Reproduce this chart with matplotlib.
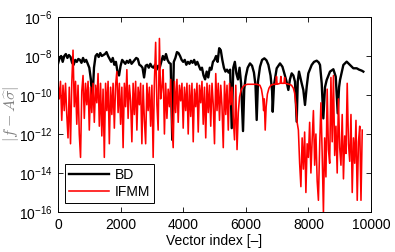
import numpy as np
import matplotlib
matplotlib.use('Agg')
import matplotlib.pyplot as plt
from matplotlib.ticker import NullLocator, FixedLocator

plt.rcParams['font.family'] = ['Liberation Sans', 'DejaVu Sans']
plt.rcParams['mathtext.fontset'] = 'custom'
plt.rcParams['mathtext.rm'] = 'Liberation Sans'
plt.rcParams['mathtext.it'] = 'Liberation Sans:italic'

# ---------------- data (log10 of |f - A sigma|) ----------------
# BD, noisy part, every 50 indices from 0 to 5850
bd_noisy_start = 0
bd_noisy_step = 50
bd_noisy_exp = [
    -8.4, -8.1, -8.0, -8.3, -8.0, -7.9, -8.1, -7.95, -8.05, -8.35,
    -8.45, -8.2, -8.3, -8.15, -8.2, -8.35, -8.1, -8.3, -8.2, -8.4,
    -8.6, -9.2, -10.3, -8.6, -8.0, -7.9, -8.05, -7.85, -8.0, -7.95,
    -7.9, -7.8, -8.0, -8.15, -8.3, -8.1, -8.45, -8.3, -8.8, -9.0,
    -8.5, -8.2, -8.3, -8.4, -8.25, -8.35, -8.2, -8.4, -8.3, -8.2,
    -8.1, -8.15, -8.45, -8.5, -8.6, -9.1, -8.5, -8.45, -8.6, -8.4,
    -8.55, -8.6, -8.45, -8.7, -8.5, -8.6, -8.3, -8.0, -8.2, -7.9,
    -8.2, -8.35, -8.4, -12.3, -8.3, -8.1, -7.8, -7.85, -8.0, -8.2,
    -8.3, -8.2, -8.45, -8.3, -8.4, -8.25, -8.35, -8.2, -8.45, -8.3,
    -8.5, -8.7, -8.6, -9.0, -9.2, -8.8, -9.1, -8.6, -8.7, -8.3,
    -8.2, -8.0, -8.3, -7.6, -7.7, -8.2, -8.6, -8.8, -8.7, -8.85,
    -8.7, -11.7, -8.6, -8.3, -8.9, -9.2, -8.6, -9.4,
]
# BD, oscillating part
bd_arc_idx = [
    5911, 5950, 6000, 6060, 6134, 6200, 6260, 6310, 6348, 6390,
    6454, 6520, 6593, 6660, 6721, 6790, 6840, 6860, 6900, 6987,
    7093, 7170, 7231, 7300, 7359, 7410, 7466, 7520, 7572, 7626,
    7660, 7700, 7785, 7838, 7891, 7946, 7998, 8105, 8180, 8265,
    8330, 8371, 8425, 8477, 8530, 8584, 8690, 8797, 8873, 8937,
    8980, 9010, 9117, 9223, 9330, 9436, 9543, 9620, 9703, 9755,
]
bd_arc_exp = [
    -11.85, -9.7, -9.05, -8.6, -8.38, -8.5, -8.85, -9.5, -11.28, -9.3,
    -8.55, -8.2, -8.12, -8.22, -8.45, -9.0, -9.8, -10.86, -9.5, -8.63,
    -8.38, -8.55, -8.89, -9.3, -9.74, -9.2, -8.89, -9.0, -9.32, -11.37,
    -9.3, -8.8, -9.4, -9.74, -10.51, -9.57, -8.89, -8.46, -8.3, -8.24,
    -8.33, -8.46, -9.4, -11.2, -9.6, -9.23, -8.8, -8.68, -9.06, -10.94,
    -9.6, -9.23, -8.46, -8.29, -8.46, -8.63, -8.63, -8.7, -8.75, -8.8,
]

# IFMM, noisy part, every 40 indices from 0 to 5680
ifmm_noisy_start = 0
ifmm_noisy_step = 40
ifmm_noisy_exp = [
    -9.4, -10.2, -9.3, -11.3, -9.5, -10.8, -9.4, -11.0, -12.2, -9.6,
    -12.5, -9.4, -7.7, -10.6, -9.3, -11.5, -9.5, -12.0, -13.2, -9.8,
    -9.0, -11.2, -9.4, -10.5, -9.3, -11.8, -9.6, -10.9, -9.4, -11.4,
    -9.5, -10.4, -8.9, -11.6, -9.4, -12.1, -9.7, -13.2, -9.4, -10.8,
    -9.3, -12.5, -9.6, -11.0, -9.4, -11.7, -9.5, -8.8, -10.9, -9.4,
    -11.5, -9.6, -12.7, -9.4, -10.6, -8.7, -11.2, -9.5, -10.3, -12.4,
    -9.4, -11.0, -9.3, -11.8, -9.6, -10.5, -9.4, -12.5, -9.5, -11.3,
    -12.5, -9.4, -10.8, -9.6, -11.6, -9.5, -13.2, -9.3, -7.3, -10.5,
    -11.8, -7.1, -10.2, -9.6, -8.7, -12.0, -9.4, -11.2, -9.7, -10.6,
    -9.2, -11.5, -12.7, -9.3, -10.9, -9.2, -11.4, -9.5, -10.3, -9.4,
    -11.7, -9.6, -10.8, -9.4, -12.0, -9.5, -11.1, -9.4, -12.4, -9.7,
    -10.6, -9.4, -11.9, -9.5, -10.4, -9.3, -11.5, -9.6, -12.2, -9.4,
    -10.9, -9.5, -11.6, -9.4, -10.5, -12.5, -8.9, -10.8, -9.4, -11.3,
    -9.5, -10.6, -12.7, -9.3, -11.0, -9.5, -11.8, -9.4, -10.5, -9.6,
    -11.2, -12.3, -9.5,
]
# IFMM, smooth plateau part
ifmm_plat_idx = [
    5720, 5760, 5800, 5850, 5900, 5960, 6050, 6200, 6350, 6450,
    6500, 6540, 6570, 6590, 6620, 6650, 6690, 6740, 6800, 6880,
    6960, 6980, 7000, 7100, 7120, 7140, 7220, 7240, 7260, 7380,
    7460, 7520, 7560, 7600, 7640,
]
ifmm_plat_exp = [
    -12.8, -10.9, -10.1, -9.75, -9.6, -9.5, -9.45, -9.45, -9.45, -9.5,
    -9.7, -10.1, -10.8, -10.2, -11.8, -10.6, -9.95, -9.65, -9.5, -9.45,
    -9.45, -9.05, -9.45, -9.4, -9.05, -9.4, -9.4, -9.1, -9.4, -9.45,
    -9.5, -9.65, -9.9, -10.5, -11.4,
]
# IFMM, noisy tail, every 40 indices from 7680 to 9720
ifmm_tail_start = 7680
ifmm_tail_step = 40
ifmm_tail_exp = [
    -11.8, -13.5, -14.7, -12.2, -13.8, -11.9, -15.0, -12.5, -13.2, -11.4,
    -14.0, -12.3, -10.8, -13.6, -12.0, -14.4, -15.4, -12.6, -10.4, -13.0,
    -16.0, -12.2, -14.2, -9.7, -12.8, -13.5, -9.1, -12.4, -9.0, -13.1,
    -11.6, -14.0, -10.2, -12.7, -13.6, -11.0, -14.3, -12.1, -13.0, -9.4,
    -12.5, -13.4, -11.0, -15.0, -12.2, -13.5, -11.3, -15.4, -12.4, -11.6,
    -15.4, -11.8,
]

xtick_vals = [0, 2000, 4000, 6000, 8000, 10000]
ytick_vals = [1e-16, 1e-14, 1e-12, 1e-10, 1e-8, 1e-6]

# ---------------- assemble series ----------------
bd_x = np.concatenate([bd_noisy_start + bd_noisy_step * np.arange(len(bd_noisy_exp)),
                       np.array(bd_arc_idx)])
bd_y = 10.0 ** np.concatenate([bd_noisy_exp, bd_arc_exp])

ifmm_x = np.concatenate([ifmm_noisy_start + ifmm_noisy_step * np.arange(len(ifmm_noisy_exp)),
                         np.array(ifmm_plat_idx),
                         ifmm_tail_start + ifmm_tail_step * np.arange(len(ifmm_tail_exp))])
ifmm_y = 10.0 ** np.concatenate([ifmm_noisy_exp, ifmm_plat_exp, ifmm_tail_exp])

# ---------------- plot ----------------
fig = plt.figure(figsize=(3.95, 2.52), dpi=100)
ax = fig.add_axes([58 / 395, 40 / 252, 313 / 395, 195 / 252])

ax.semilogy(bd_x, bd_y, color='black', lw=1.7, label='BD')
ax.semilogy(ifmm_x, ifmm_y, color='red', lw=1.15, label='IFMM')

ax.set_xlim(0, 10000)
ax.set_ylim(1e-16, 1e-6)
ax.xaxis.set_major_locator(FixedLocator(xtick_vals))
ax.yaxis.set_major_locator(FixedLocator(ytick_vals))
ax.yaxis.set_minor_locator(NullLocator())
ax.tick_params(direction='in', top=True, right=True, length=3.5, width=0.6,
               labelsize=10, pad=4)
for s in ax.spines.values():
    s.set_linewidth(0.7)

ax.set_xlabel('Vector index [–]', fontsize=10, labelpad=2)
yl = ax.set_ylabel(r'$|f - A\widehat{\sigma}|$', fontsize=11.5, color='0.5')
yl.set_math_fontfamily('cm')
ax.yaxis.set_label_coords(-0.118, 0.5)

leg = ax.legend(loc='lower left', bbox_to_anchor=(0.022, 0.046), borderaxespad=0,
                fontsize=10, handlelength=2.9, handletextpad=0.4, labelspacing=0.2,
                borderpad=0.3, fancybox=False, framealpha=1, edgecolor='black')
leg.get_frame().set_linewidth(0.7)

fig.savefig('out.png', dpi=100)
